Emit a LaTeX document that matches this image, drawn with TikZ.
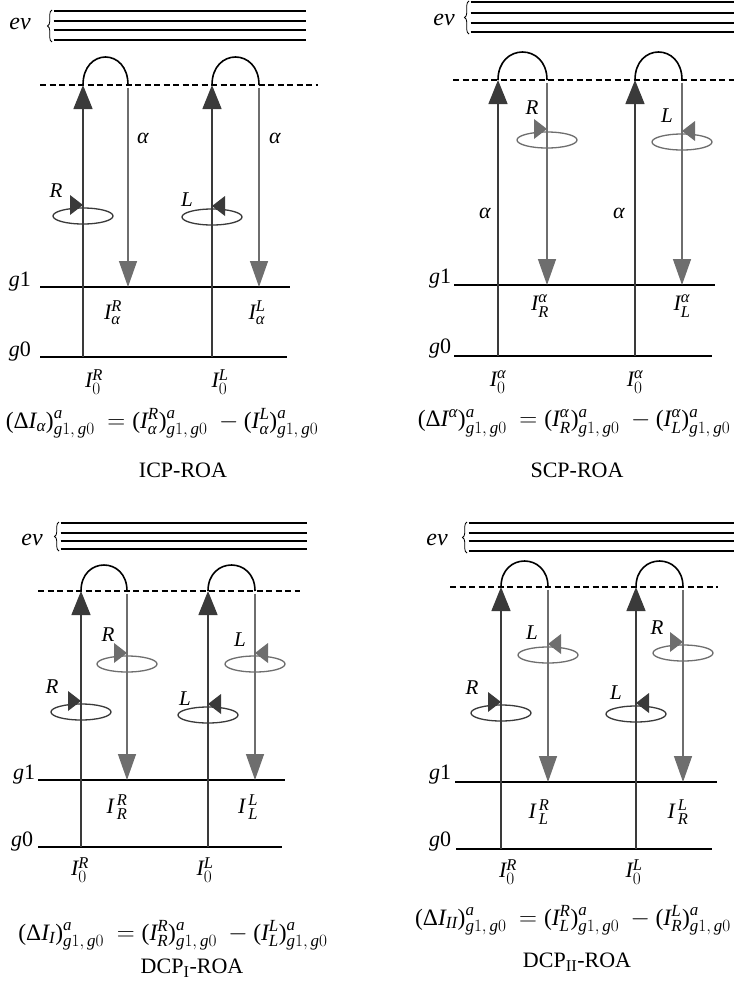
\documentclass[tikz,border=0pt]{standalone}
\usepackage{amsmath}
\usepackage{fontspec}
\setmainfont{Liberation Serif}
\usetikzlibrary{arrows.meta,decorations.pathreplacing}
\DeclareMathSizes{22}{22}{16.5}{12}
\DeclareMathSizes{23.5}{23.5}{17}{13}
\definecolor{dk}{HTML}{3A3A3A}
\definecolor{lt}{HTML}{6E6E6E}
\newcommand{\ii}[1]{\textit{#1}}
\newcommand{\Lpar}{\textup{(}}
\newcommand{\Rpar}{\textup{)}}
\newcommand{\Dl}{\textup{Δ}}
\newcommand{\gsub}{\ii{g}1,\,\ii{g}0}
\tikzset{
  level/.style={line width=1.8pt, black},
  evl/.style={line width=1.6pt, black},
  virt/.style={dash pattern=on 6pt off 3.5pt, line width=1.3pt},
  uparr/.style={dk, line width=1.4pt, -{Triangle[length=24pt,width=19pt]}},
  dnarr/.style={lt, line width=1.4pt, -{Triangle[length=26pt,width=18pt]}},
  semi/.style={line width=1.6pt, black},
  lab/.style={font=\fontsize{22}{26}\selectfont, inner sep=0pt},
  eqlab/.style={font=\fontsize{23.5}{28}\selectfont, inner sep=0pt},
  evlab/.style={font=\fontsize{24}{28}\selectfont\itshape, inner sep=0pt},
  pollab/.style={font=\fontsize{21}{25}\selectfont\itshape, inner sep=0pt},
  bracest/.style={decorate, decoration={brace, amplitude=4.5pt}, line width=0.8pt},
  polR/.pic={\draw[line width=1.3pt] (0,0) ellipse[x radius=30, y radius=8];
             \fill (0,-11) -- (-13,-21) -- (-13,-1) -- cycle;},
  polL/.pic={\draw[line width=1.3pt] (0,0) ellipse[x radius=30, y radius=8];
             \fill (0,-11) -- (13,-21) -- (13,-1) -- cycle;},
}
% #1 name, #2 up x, #3 down x, #4 g0 y, #5 g1 y, #6 dashed y, #7 top of loop y
\newcommand{\ramanpath}[7]{%
  \coordinate (#1-u0) at (#2,#4);
  \coordinate (#1-u1) at (#2,#6);
  \coordinate (#1-s) at (#3,#6);
  \coordinate (#1-d0) at (#3,{#6+2.5});
  \coordinate (#1-d1) at (#3,#5);
  \draw[uparr] (#1-u0) -- (#1-u1);
  \draw[semi] (#1-u1) .. controls +(0,{-(#6-#7)*4/3}) and +(0,{-(#6-#7)*4/3}) .. (#1-s);
  \draw[dnarr] (#1-d0) -- (#1-d1);
}
% #1 name, #2 brace x, #3 line end x, #4..#7 line y's
\newcommand{\evband}[7]{%
  \coordinate (#1-b0) at (#2,{#7+2});
  \coordinate (#1-b1) at (#2,{#4-1});
  \draw[bracest] (#1-b0) -- (#1-b1);
  \foreach \yy [count=\k] in {#4,#5,#6,#7}{
    \coordinate (#1-l\k a) at ({#2+1.5},\yy);
    \coordinate (#1-l\k b) at (#3,\yy);
    \draw[evl] (#1-l\k a) -- (#1-l\k b);
  }
}
\begin{document}
\begin{tikzpicture}[x=1pt,y=-1pt]
\useasboundingbox (0,0) rectangle (734,985);

%%%%%%%%%%%%%%%% Panel 1: ICP-ROA
\node[evlab] (ev1) at (20,24) {ev};
\evband{e1}{52}{306}{11}{21}{30}{40}
\coordinate (v1a) at (40,85); \coordinate (v1b) at (318,85);
\draw[virt] (v1a) -- (v1b);
\coordinate (g11a) at (40,287); \coordinate (g11b) at (290,287);
\coordinate (g01a) at (40,357); \coordinate (g01b) at (287,357);
\draw[level] (g11a) -- (g11b);
\draw[level] (g01a) -- (g01b);
\node[lab] (g1l1) at (20,282) {\ii{g}1};
\node[lab] (g0l1) at (20,352) {\ii{g}0};
\ramanpath{p1a}{83}{128}{357}{287}{85}{57}
\ramanpath{p1b}{212}{259}{357}{287}{85}{57}
\node[lab] (al1a) at (143,138) {\ii{α}};
\node[lab] (al1b) at (275,138) {\ii{α}};
\pic[color=dk] (c1a) at (83,216) {polR};
\pic[color=dk] (c1b) at (212,217) {polL};
\node[pollab] (r1a) at (56,191) {R};
\node[pollab] (l1b) at (187,200) {L};
\node[lab] (i1a) at (113,313) {$\ii{I}^{\ii{R}}_{\ii{α}}$};
\node[lab] (i1b) at (257,313) {$\ii{I}^{\ii{L}}_{\ii{α}}$};
\node[lab] (o1a) at (94,382) {$\ii{I}^{\ii{R}}_{0}$};
\node[lab] (o1b) at (220,382) {$\ii{I}^{\ii{L}}_{0}$};
\node[eqlab] (eq1) at (162,423) {$\Lpar\Dl\ii{I}_{\ii{α}}\Rpar^{\ii{a}}_{\gsub}\ =\Lpar\ii{I}^{\ii{R}}_{\ii{α}}\Rpar^{\ii{a}}_{\gsub}\ -\Lpar\ii{I}^{\ii{L}}_{\ii{α}}\Rpar^{\ii{a}}_{\gsub}$};
\node[lab] (cap1) at (183,470) {ICP-ROA};

%%%%%%%%%%%%%%%% Panel 2: SCP-ROA
\node[evlab] (ev2) at (444,20) {ev};
\evband{e2}{469}{734}{2}{13}{23}{32}
\coordinate (v2a) at (453,80); \coordinate (v2b) at (734,80);
\draw[virt] (v2a) -- (v2b);
\coordinate (g12a) at (454,285); \coordinate (g12b) at (715,285);
\coordinate (g02a) at (454,356); \coordinate (g02b) at (712,356);
\draw[level] (g12a) -- (g12b);
\draw[level] (g02a) -- (g02b);
\node[lab] (g1l2) at (440,279) {\ii{g}1};
\node[lab] (g0l2) at (440,349) {\ii{g}0};
\ramanpath{p2a}{498}{547}{356}{285}{80}{52}
\ramanpath{p2b}{635}{682}{356}{285}{80}{52}
\node[lab] (al2a) at (485,213) {\ii{α}};
\node[lab] (al2b) at (619,213) {\ii{α}};
\pic[color=lt] (c2a) at (547,140) {polR};
\pic[color=lt] (c2b) at (682,142) {polL};
\node[pollab] (r2a) at (532,108) {R};
\node[pollab] (l2b) at (667,116) {L};
\node[lab] (i2a) at (540,306) {$\ii{I}^{\ii{α}}_{\ii{R}}$};
\node[lab] (i2b) at (682,306) {$\ii{I}^{\ii{α}}_{\ii{L}}$};
\node[lab] (o2a) at (498,382) {$\ii{I}^{\ii{α}}_{0}$};
\node[lab] (o2b) at (635,382) {$\ii{I}^{\ii{α}}_{0}$};
\node[eqlab] (eq2) at (574,423) {$\Lpar\Dl\ii{I}^{\ii{α}}\Rpar^{\ii{a}}_{\gsub}\ =\Lpar\ii{I}^{\ii{α}}_{\ii{R}}\Rpar^{\ii{a}}_{\gsub}\ -\Lpar\ii{I}^{\ii{α}}_{\ii{L}}\Rpar^{\ii{a}}_{\gsub}$};
\node[lab] (cap2) at (577,470) {SCP-ROA};

%%%%%%%%%%%%%%%% Panel 3: DCP_I-ROA
\node[evlab] (ev3) at (32,540) {ev};
\evband{e3}{59}{307}{523}{533}{541}{549}
\coordinate (v3a) at (38,591); \coordinate (v3b) at (300,591);
\draw[virt] (v3a) -- (v3b);
\coordinate (g13a) at (38,780); \coordinate (g13b) at (285,780);
\coordinate (g03a) at (38,847); \coordinate (g03b) at (282,847);
\draw[level] (g13a) -- (g13b);
\draw[level] (g03a) -- (g03b);
\node[lab] (g1l3) at (24,775) {\ii{g}1};
\node[lab] (g0l3) at (22,842) {\ii{g}0};
\ramanpath{p3a}{81}{127}{847}{780}{591}{565}
\ramanpath{p3b}{208}{255}{847}{780}{591}{565}
\pic[color=lt] (c3a) at (127,664) {polR};
\pic[color=dk] (c3b) at (81,712) {polR};
\pic[color=lt] (c3c) at (255,664) {polL};
\pic[color=dk] (c3d) at (208,715) {polL};
\node[pollab] (r3a) at (108,635) {R};
\node[pollab] (r3b) at (52,687) {R};
\node[pollab] (l3c) at (240,640) {L};
\node[pollab] (l3d) at (185,699) {L};
\node[lab] (i3a) at (117,807) {$\ii{I}^{\,\ii{R}}_{\,\ii{R}}$};
\node[lab] (i3b) at (248,807) {$\ii{I}^{\,\ii{L}}_{\,\ii{L}}$};
\node[lab] (o3a) at (80,870) {$\ii{I}^{\ii{R}}_{0}$};
\node[lab] (o3b) at (205,870) {$\ii{I}^{\ii{L}}_{0}$};
\node[eqlab] (eq3) at (173,935) {$\Lpar\Dl\ii{I}_{\ii{I}}\Rpar^{\ii{a}}_{\gsub}\ =\Lpar\ii{I}^{\ii{R}}_{\ii{R}}\Rpar^{\ii{a}}_{\gsub}\ -\Lpar\ii{I}^{\ii{L}}_{\ii{L}}\Rpar^{\ii{a}}_{\gsub}$};
\node[lab] (cap3) at (192,968) {DCP\textsubscript{I}-ROA};

%%%%%%%%%%%%%%%% Panel 4: DCP_II-ROA
\node[evlab] (ev4) at (437,540) {ev};
\evband{e4}{467}{734}{523}{533}{541}{551}
\coordinate (v4a) at (450,587); \coordinate (v4b) at (718,587);
\draw[virt] (v4a) -- (v4b);
\coordinate (g14a) at (455,782); \coordinate (g14b) at (717,782);
\coordinate (g04a) at (456,849); \coordinate (g04b) at (712,849);
\draw[level] (g14a) -- (g14b);
\draw[level] (g04a) -- (g04b);
\node[lab] (g1l4) at (440,775) {\ii{g}1};
\node[lab] (g0l4) at (440,842) {\ii{g}0};
\ramanpath{p4a}{501}{548}{849}{782}{587}{561}
\ramanpath{p4b}{636}{683}{849}{782}{587}{561}
\pic[color=lt] (c4a) at (548,655) {polL};
\pic[color=dk] (c4b) at (501,713) {polR};
\pic[color=lt] (c4c) at (683,653) {polR};
\pic[color=dk] (c4d) at (636,714) {polL};
\node[pollab] (l4a) at (532,633) {L};
\node[pollab] (r4b) at (472,688) {R};
\node[pollab] (r4c) at (657,628) {R};
\node[pollab] (l4d) at (616,693) {L};
\node[lab] (i4a) at (539,812) {$\ii{I}^{\,\ii{R}}_{\,\ii{L}}$};
\node[lab] (i4b) at (678,812) {$\ii{I}^{\,\ii{L}}_{\,\ii{R}}$};
\node[lab] (o4a) at (508,872) {$\ii{I}^{\ii{R}}_{0}$};
\node[lab] (o4b) at (634,872) {$\ii{I}^{\ii{L}}_{0}$};
\node[eqlab] (eq4) at (573,920) {$\Lpar\Dl\ii{I}_{\ii{II}}\Rpar^{\ii{a}}_{\gsub}\ =\Lpar\ii{I}^{\ii{R}}_{\ii{L}}\Rpar^{\ii{a}}_{\gsub}\ -\Lpar\ii{I}^{\ii{L}}_{\ii{R}}\Rpar^{\ii{a}}_{\gsub}$};
\node[lab] (cap4) at (577,962) {DCP\textsubscript{II}-ROA};
\end{tikzpicture}
\end{document}
